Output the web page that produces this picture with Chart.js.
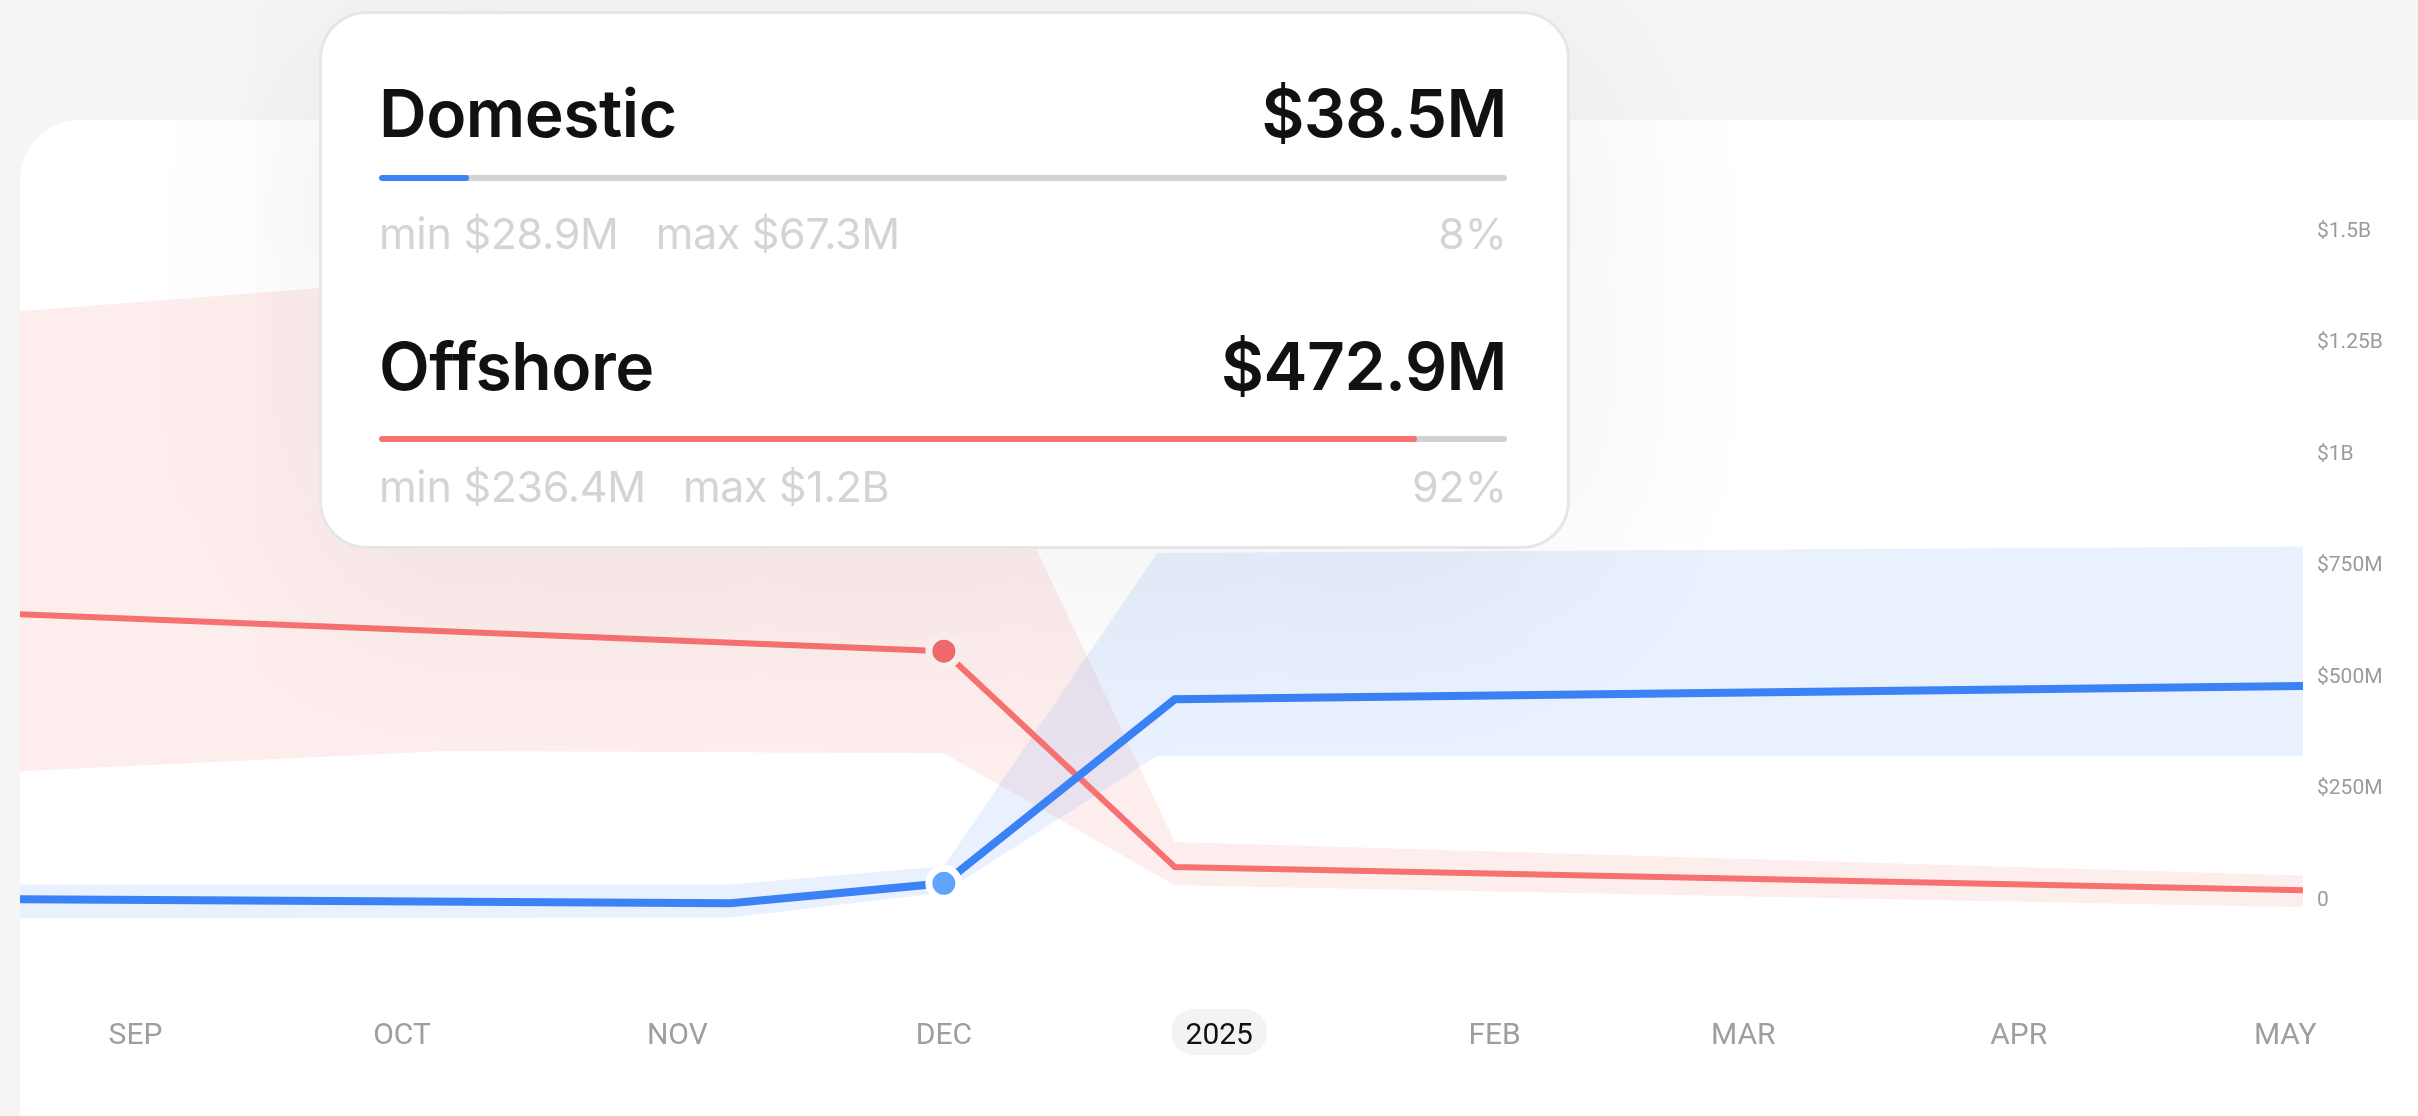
<!DOCTYPE html>
<html>
<head>
<meta charset="utf-8">
<script src="https://cdn.jsdelivr.net/npm/chart.js@4.4.1/dist/chart.umd.min.js"></script>
<style>
  html, body { margin:0; padding:0; width:2418px; height:1116px; overflow:hidden; background:#f6f4f5; font-family: Inter, 'Noto Sans', sans-serif; }
  #card { position:absolute; left:20px; top:120px; width:2500px; height:1060px; background:#ffffff; border-radius:60px; }
  #chart { position:absolute; left:0; top:0; }
  #tip { position:absolute; left:319px; top:11px; width:1245px; height:532px; background:#ffffff; border:3px solid #e6e6e6; border-radius:48px; box-shadow:0 30px 220px rgba(0,0,0,0.07); }
  .t-title { position:absolute; left:57px; font-size:66px; line-height:66px; font-weight:600; color:#111111; letter-spacing:-0.5px; white-space:nowrap; }
  .t-value { position:absolute; right:60px; font-size:66px; line-height:66px; font-weight:600; color:#111111; letter-spacing:-0.5px; white-space:nowrap; }
  .t-bar { position:absolute; left:57px; right:60px; height:6px; border-radius:3px; background:#d2d2d2; overflow:hidden; }
  .t-fill { position:absolute; left:0; top:0; bottom:0; border-radius:3px; }
  .t-sub { position:absolute; left:57px; font-size:43px; line-height:43px; font-weight:400; color:#d4d4d4; white-space:nowrap; letter-spacing:-0.3px; }
  .t-sub span + span { margin-left:37px; }
  .t-share { position:absolute; right:60px; font-size:43px; line-height:43px; font-weight:400; color:#d4d4d4; white-space:nowrap; }
</style>
</head>
<body>
<div id="card"></div>
<canvas id="chart" width="2418" height="1116"></canvas>
<div id="tip"></div>
<script>
// ---- axis ticks (x in days since 1 Sep 2024) ----
const xTickDays   = [0, 30, 61, 91, 122, 153, 181, 212, 242];
const xTickLabels = ['SEP', 'OCT', 'NOV', 'DEC', '2025', 'FEB', 'MAR', 'APR', 'MAY'];
const yTickValues = [0, 250, 500, 750, 1000, 1250, 1500];           // $M
const yTickLabels = ['0', '$250M', '$500M', '$750M', '$1B', '$1.25B', '$1.5B'];

// ---- series (values in $M) ----
const domesticDays   = [-13, 67, 91, 117, 244];
const domesticValues = [3, -6, 38.5, 451, 481];
const offshoreDays   = [-13, 91, 117, 244];
const offshoreValues = [642, 559, 75, 23];

// ---- min / max ranges (values in $M) ----
const domesticBandDays = [-13, 67, 91, 115, 244];
const domesticBandLow  = [-40, -38, 18, 324, 324];
const domesticBandHigh = [36, 36, 77, 779, 794];
const offshoreBandDays = [-13, 35, 91, 117, 244];
const offshoreBandLow  = [290, 335, 330, 34, -15];
const offshoreBandHigh = [1321, 1395, 1227, 131, 56];

// ---- highlighted point / tooltip ----
const highlightDay   = 91;
const highlightLabel = '2025';
const tooltipSeries  = ['Domestic', 'Offshore'];
const tooltipValues  = ['$38.5M', '$472.9M'];
const tooltipMins    = ['$28.9M', '$236.4M'];
const tooltipMaxs    = ['$67.3M', '$1.2B'];
const tooltipShares  = [8, 92];

const BLUE = '#3b82f6', BLUE_DOT = '#60a5fa', RED = '#f87171', RED_DOT = '#f26b6b';
const seriesColors = [BLUE, RED];

const pts = (days, vals) => days.map((d, i) => ({ x: d, y: vals[i] }));

const pillPlugin = {
  id: 'pill',
  beforeDraw(chart) {
    const xs = chart.scales.x;
    const i = xTickLabels.indexOf(highlightLabel);
    if (i < 0) return;
    const cx = xs.getPixelForValue(xTickDays[i]);
    const w = 96, h = 46, cy = 1032;
    const ctx = chart.ctx;
    ctx.save();
    ctx.fillStyle = '#f4f3f3';
    ctx.beginPath();
    ctx.roundRect(cx - w / 2, cy - h / 2, w, h, 23);
    ctx.fill();
    ctx.restore();
  }
};

const hoverRadius = (days) => (ctx) => days[ctx.dataIndex] === highlightDay ? 15 : 0;

new Chart(document.getElementById('chart'), {
  type: 'line',
  data: {
    datasets: [
      { label: 'Domestic', data: pts(domesticDays, domesticValues), order: 0,
        borderColor: BLUE, borderWidth: 8, borderJoinStyle: 'miter', tension: 0, fill: false,
        pointRadius: hoverRadius(domesticDays), pointBackgroundColor: BLUE_DOT,
        pointBorderColor: '#ffffff', pointBorderWidth: 7 },
      { label: 'Offshore', data: pts(offshoreDays, offshoreValues), order: 1,
        borderColor: RED, borderWidth: 6, borderJoinStyle: 'miter', tension: 0, fill: false,
        pointRadius: hoverRadius(offshoreDays), pointBackgroundColor: RED_DOT,
        pointBorderColor: '#fdf0f0', pointBorderWidth: 7 },
      { label: 'Domestic min', data: pts(domesticBandDays, domesticBandLow), order: 2,
        borderWidth: 0, pointRadius: 0, fill: false, tension: 0 },
      { label: 'Domestic max', data: pts(domesticBandDays, domesticBandHigh), order: 2,
        borderWidth: 0, pointRadius: 0, tension: 0, fill: '-1', backgroundColor: 'rgba(59,130,246,0.11)' },
      { label: 'Offshore min', data: pts(offshoreBandDays, offshoreBandLow), order: 3,
        borderWidth: 0, pointRadius: 0, fill: false, tension: 0 },
      { label: 'Offshore max', data: pts(offshoreBandDays, offshoreBandHigh), order: 3,
        borderWidth: 0, pointRadius: 0, tension: 0, fill: '-1', backgroundColor: 'rgba(248,113,113,0.13)' }
    ]
  },
  options: {
    responsive: false,
    animation: false,
    events: [],
    layout: { padding: { left: 20, top: 120, right: 0, bottom: 44 } },
    plugins: { legend: { display: false }, tooltip: { enabled: false } },
    scales: {
      x: {
        type: 'linear', min: -13, max: 244,
        grid: { display: false, drawTicks: false }, border: { display: false },
        afterBuildTicks: (s) => { s.ticks = xTickDays.map(v => ({ value: v })); },
        afterFit: (s) => { s.height = 60; },
        ticks: {
          autoSkip: false, maxRotation: 0, padding: 6,
          font: { family: 'Roboto', size: 30 },
          color: (ctx) => xTickLabels[ctx.index] === highlightLabel ? '#111111' : '#9e9e9e',
          callback: (v, i) => xTickLabels[i]
        }
      },
      y: {
        type: 'linear', position: 'right', min: -250, max: 1750,
        grid: { display: false, drawTicks: false }, border: { display: false },
        afterBuildTicks: (s) => { s.ticks = yTickValues.map(v => ({ value: v })); },
        afterFit: (s) => { s.width = 115; },
        ticks: {
          padding: 14,
          font: { family: 'Roboto', size: 21 },
          color: '#9b9b9b',
          callback: (v, i) => yTickLabels[i]
        }
      }
    }
  },
  plugins: [pillPlugin]
});

// ---- tooltip (HTML overlay) ----
const tip = document.getElementById('tip');
const rowLayout = [ { title: 99, bar: 164, sub: 220 }, { title: 352, bar: 425, sub: 473 } ];
tooltipSeries.forEach((name, i) => {
  const L = rowLayout[i];
  const mk = (cls, top, html) => { const d = document.createElement('div'); d.className = cls; d.style.top = top + 'px'; d.innerHTML = html; tip.appendChild(d); return d; };
  mk('t-title', L.title - 33, name);
  mk('t-value', L.title - 33, tooltipValues[i]);
  const bar = mk('t-bar', L.bar - 3, '');
  const fill = document.createElement('div');
  fill.className = 't-fill';
  fill.style.width = tooltipShares[i] + '%';
  fill.style.background = seriesColors[i];
  bar.appendChild(fill);
  mk('t-sub', L.sub - 22, '<span>min ' + tooltipMins[i] + '</span><span>max ' + tooltipMaxs[i] + '</span>');
  mk('t-share', L.sub - 22, tooltipShares[i] + '%');
});
</script>
</body>
</html>
